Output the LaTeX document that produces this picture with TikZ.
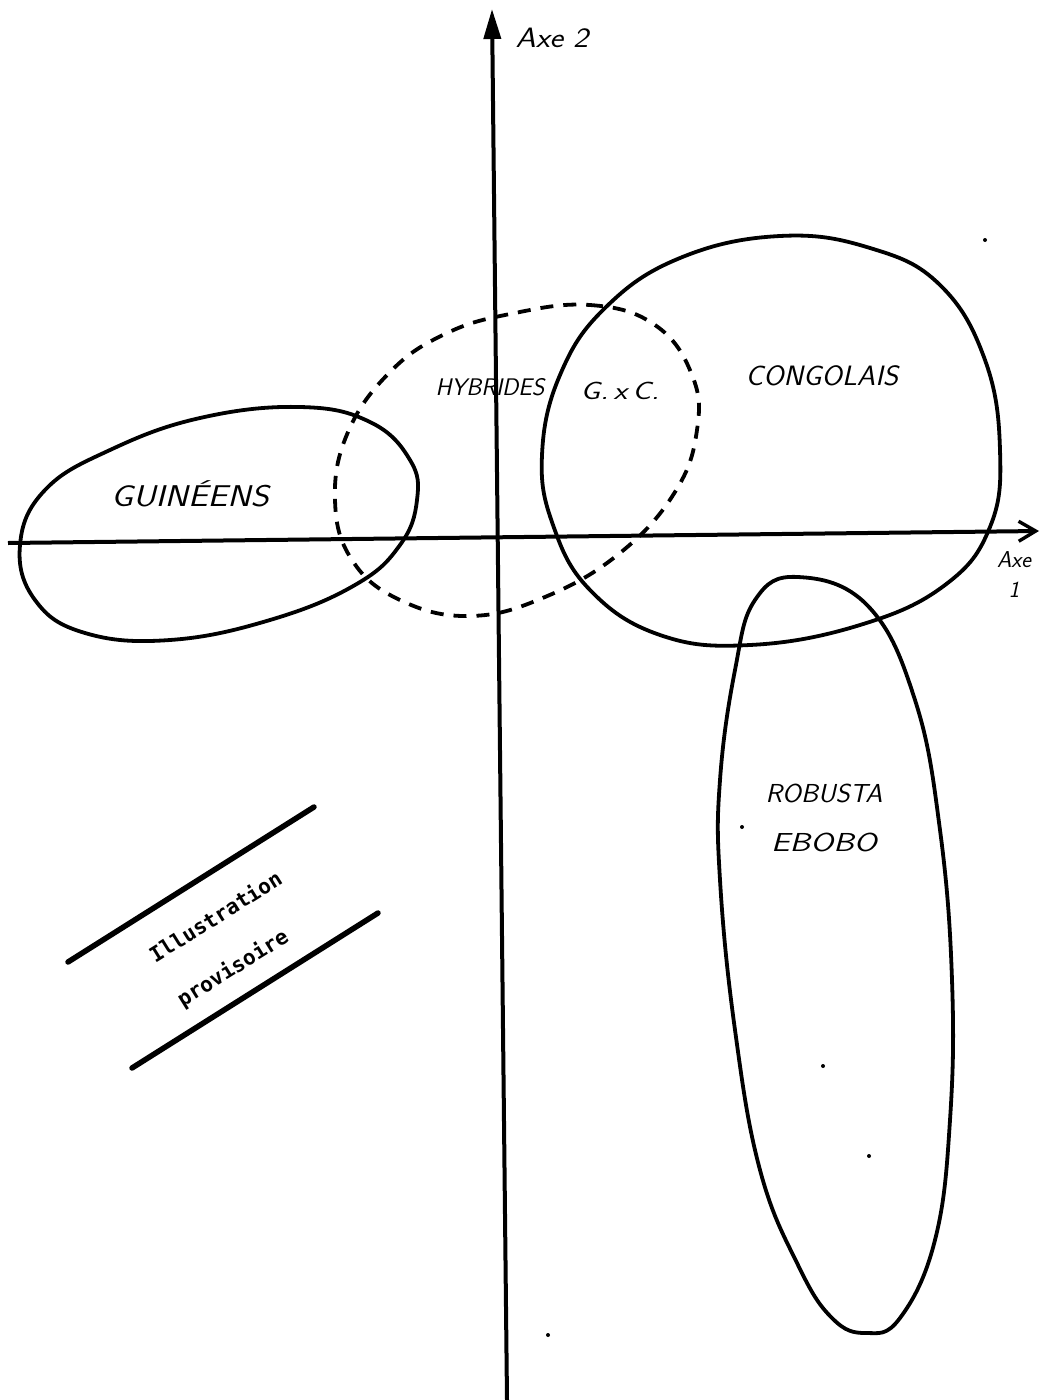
\documentclass[tikz,border=0pt]{standalone}
\usepackage{fontspec}
\usepackage{tikz}
\usetikzlibrary{arrows.meta, positioning}
\newfontfamily\stampfont{DejaVu Sans Mono}

\begin{document}
\begin{tikzpicture}[
        x=1pt, y=-1pt,
        axis/.style={
            line width=4pt,
            draw=black
        },
        group/.style={
            line width=3.8pt,
            draw=black,
            line join=round
        },
        hybrid/.style={
            line width=3.8pt,
            draw=black,
            dash pattern=on 13pt off 10pt
        },
        label/.style={
            font=\sffamily\slshape\fontsize{26}{30}\selectfont,
            inner sep=1pt,
            transform shape
        },
        banner/.style={
            line width=5.5pt,
            line cap=round
        }
    ]
        \useasboundingbox (0,0) rectangle (1042,1400);

        % Axes
        \coordinate (ybot) at (507,1400);
        \coordinate (ytop) at (492,9);
        \coordinate (xleft) at (8,543);
        \coordinate (xright) at (1039,531);
        \draw[axis, -{Triangle[length=30pt, width=17pt]}] (ybot) -- (ytop);
        \draw[axis, -{Straight Barb[length=17pt, width=20pt, line width=3.4pt]}] (xleft) -- (xright);
        \node[label, font=\sffamily\slshape\fontsize{28}{30}\selectfont, xscale=1.15] (axe2) at (552,38) {Axe 2};
        \node[label, font=\sffamily\slshape\fontsize{23}{30}\selectfont, align=center] (axe1) at (1014,575) {Axe\\1};

        % Guineens
        \draw[group] plot[smooth cycle, tension=0.7] coordinates {
            (20,545) (45,490) (110,450) (200,418) (300,407) (370,422)
            (410,460) (417,500) (400,545) (355,585) (270,620) (170,640)
            (85,633) (35,600)};
        \node[label, font=\sffamily\slshape\fontsize{30}{32}\selectfont, xscale=1.17] (guineens) at (190,494) {GUINÉENS};

        % Hybrides G x C
        \draw[hybrid] plot[smooth cycle, tension=0.7] coordinates {
            (510,314) (590,305) (655,325) (692,375) (697,430) (675,492)
            (620,553) (545,597) (470,616) (400,600) (352,560) (335,500)
            (348,432) (390,372) (445,334)};
        \node[label, font=\sffamily\slshape\fontsize{24}{26}\selectfont] (hybrides) at (490,387) {HYBRIDES};
        \node[label, font=\sffamily\slshape\fontsize{25}{27}\selectfont, xscale=1.25] (gxc) at (620,391) {G.\,x\,C.};

        % Congolais
        \draw[group] plot[smooth cycle, tension=0.7] coordinates {
            (780,236) (870,248) (940,285) (985,360) (1000,450) (990,527)
            (945,585) (860,625) (750,645) (660,635) (590,590) (553,525)
            (542,455) (560,375) (605,308) (680,258)};
        \node[label, font=\sffamily\slshape\fontsize{28}{30}\selectfont, xscale=1.05] (congolais) at (822,376) {CONGOLAIS};

        % Robusta Ebobo
        \draw[group] plot[smooth cycle, tension=0.7] coordinates {
            (798,577) (755,600) (735,670) (720,780) (720,880) (735,1030)
            (760,1170) (798,1265) (832,1318) (866,1333) (900,1318)
            (935,1240) (950,1120) (952,980) (940,830) (915,700) (868,606)};
        \node[label, xscale=1.05] (robusta) at (824,793) {ROBUSTA};
        \node[label, xscale=1.27, below=49pt of robusta.center, anchor=center] (ebobo) {EBOBO};

        % Stray dots
        \foreach \px/\py [count=\i] in {985/240, 742/827, 823/1066, 869/1156, 548/1335}
            \fill (\px,\py) circle[radius=2pt] coordinate (dot\i);

        % Illustration provisoire
        \coordinate (b1s) at (68,962);
        \coordinate (b1e) at (314,807);
        \coordinate (b2s) at (132,1068);
        \coordinate (b2e) at (378,913);
        \draw[banner] (b1s) -- (b1e);
        \draw[banner] (b2s) -- (b2e);
        \node[rotate=32, align=left, font=\stampfont\bfseries\fontsize{21}{52}\selectfont] (stamp) at (230,940) {Illustration\\provisoire};
    \end{tikzpicture}
\end{document}
